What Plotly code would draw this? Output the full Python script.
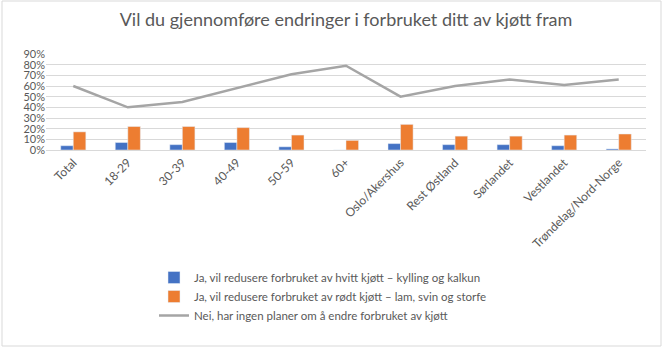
import plotly.graph_objects as go

categories = ["Total", "18-29", "30-39", "40-49", "50-59", "60+", "Oslo/Akershus",
              "Rest Østland", "Sørlandet", "Vestlandet", "Trøndelag/Nord-Norge"]
white_meat = [0.04, 0.07, 0.05, 0.07, 0.03, 0.0, 0.06, 0.05, 0.05, 0.04, 0.01]
red_meat = [0.17, 0.22, 0.22, 0.21, 0.14, 0.09, 0.24, 0.13, 0.13, 0.14, 0.15]
no_plans = [0.60, 0.40, 0.45, 0.58, 0.71, 0.79, 0.50, 0.60, 0.66, 0.61, 0.66]
names = ["Ja, vil redusere forbruket av hvitt kjøtt – kylling og kalkun",
         "Ja, vil redusere forbruket av rødt kjøtt – lam, svin og storfe",
         "Nei, har ingen planer om å endre forbruket av kjøtt"]
y_ticks = [0, 0.1, 0.2, 0.3, 0.4, 0.5, 0.6, 0.7, 0.8, 0.9]

FONT = "Lato"
GREY = "#595959"

fig = go.Figure()
fig.add_trace(go.Bar(x=categories, y=white_meat, name=names[0], marker_color="#4472C4",
                     legendgroup="a"))
fig.add_trace(go.Bar(x=categories, y=red_meat, name=names[1], marker_color="#ED7D31",
                     legendgroup="b"))
fig.add_trace(go.Scatter(x=categories, y=no_plans, name=names[2], mode="lines",
                         line=dict(color="#A5A5A5", width=2.5), legendgroup="c"))

L, R, T, B = 46, 18, 54, 200
W, H = 664, 350
pw, ph = W - L - R, H - T - B

def px_x(x):
    return (x - L) / pw

def px_y(y):
    return (H - B - y) / ph

fig.update_layout(
    width=W, height=H,
    margin=dict(l=L, r=R, t=T, b=B),
    paper_bgcolor="white", plot_bgcolor="white",
    font=dict(family=FONT, color=GREY, size=12),
    title=dict(text="Vil du gjennomføre endringer i forbruket ditt av kjøtt fram",
               x=0.5, xref="paper", y=1 - 20 / H, yanchor="middle",
               font=dict(size=18, color=GREY, family=FONT)),
    barmode="group", bargap=0.54, bargroupgap=0,
    showlegend=True,
    legend=dict(x=px_x(154), y=px_y(263), xanchor="left", yanchor="top",
                orientation="v", traceorder="normal", tracegroupgap=8,
                font=dict(size=11.5, color=GREY, family=FONT),
                bgcolor="rgba(0,0,0,0)"),
    xaxis=dict(tickangle=-45, showgrid=False, showline=True, linecolor="#D9D9D9",
               linewidth=1, ticks="", tickfont=dict(size=12, color=GREY)),
    yaxis=dict(range=[0, 0.9], tickvals=y_ticks, tickformat=".0%", showgrid=True,
               gridcolor="#D9D9D9", gridwidth=1, zeroline=False, showline=False,
               ticks="", tickfont=dict(size=11, color=GREY)),
    shapes=[dict(type="rect", xref="paper", yref="paper",
                 x0=px_x(2), x1=px_x(661), y0=px_y(346), y1=px_y(1),
                 line=dict(color="#D9D9D9", width=1), fillcolor="rgba(0,0,0,0)",
                 layer="below")],
)

fig.write_html("out.html")
